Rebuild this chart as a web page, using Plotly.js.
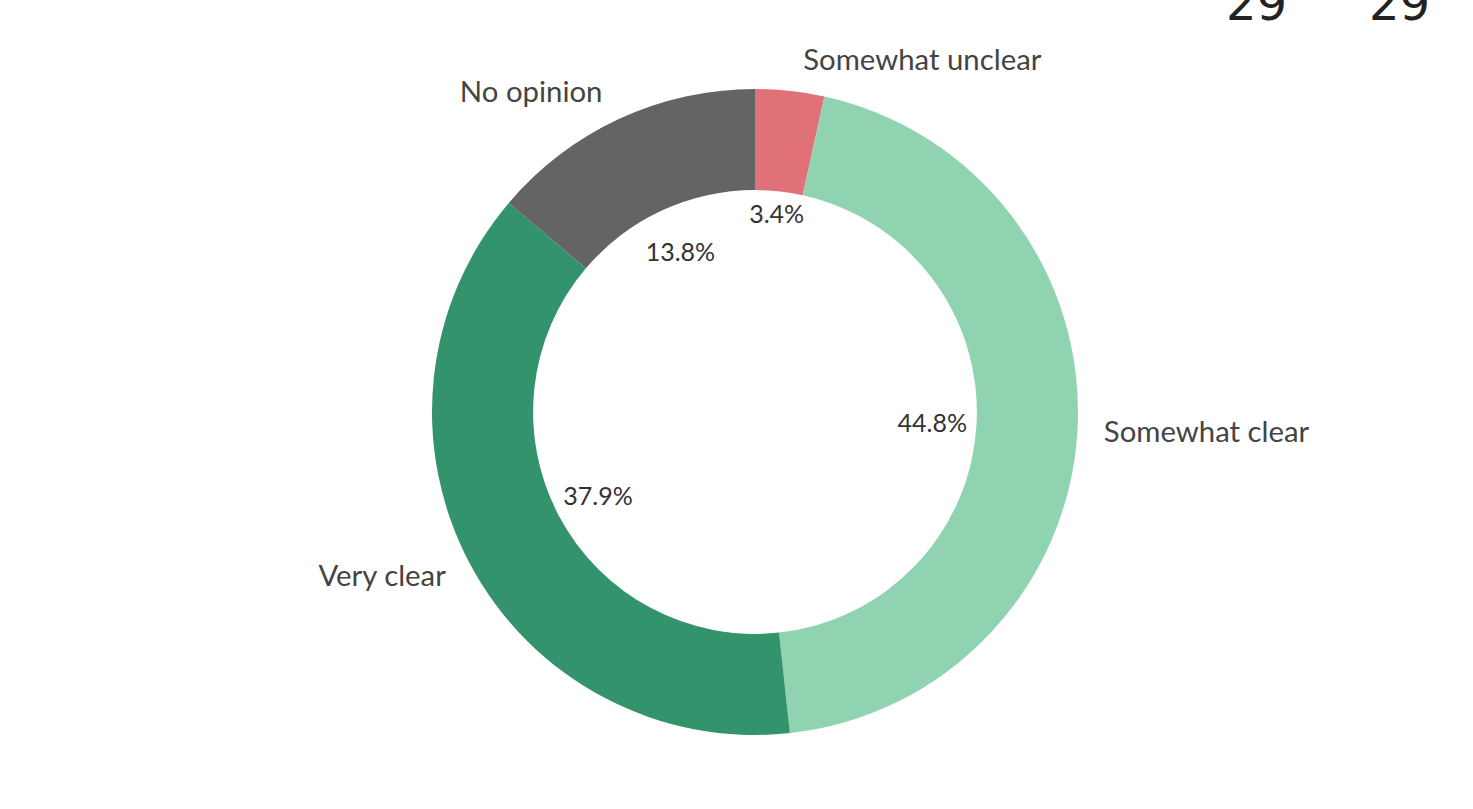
<!DOCTYPE html>
<html>
<head>
<meta charset="utf-8">
<script src="https://cdn.plot.ly/plotly-3.0.1.min.js"></script>
<style>html,body{margin:0;padding:0;background:#fff;}#chart{width:1473px;height:809px;}</style>
</head>
<body>
<div id="chart"></div>
<script>
const categories = ["Somewhat unclear", "Somewhat clear", "Very clear", "No opinion"];
const counts = [1, 13, 11, 4];
const colors = ["#e07179", "#8fd3b0", "#33936d", "#646464"];

const total = counts.reduce((a, b) => a + b, 0);
const FONT = "Lato, 'Source Sans Pro', 'Open Sans', sans-serif";
const CLEAR = categories.map(() => "rgba(0,0,0,0)");

const base = {
  type: "pie",
  labels: categories,
  values: counts,
  sort: false,
  direction: "clockwise",
  rotation: 0,
  showlegend: false,
  automargin: false
};

// coloured donut ring
const ring = Object.assign({}, base, {
  hole: 0.687,
  marker: {colors: colors, line: {width: 0}},
  textinfo: "none",
  domain: {x: [0, 1], y: [0.0222, 0.9778]}
});

// category labels outside the ring
const labelRing = Object.assign({}, base, {
  hole: 0.95,
  marker: {colors: CLEAR, line: {width: 0}},
  textinfo: "label",
  textposition: "outside",
  outsidetextfont: {family: FONT, size: 30, color: "#444"},
  hoverinfo: "skip",
  domain: {x: [0, 1], y: [0, 1]}
});

// percentages inside the hole
const pctRing = Object.assign({}, base, {
  hole: 0.6,
  marker: {colors: CLEAR, line: {width: 0}},
  textinfo: "percent",
  texttemplate: "%{percent:.1%}",
  textposition: "inside",
  insidetextorientation: "horizontal",
  insidetextfont: {family: FONT, size: 25, color: "#333"},
  hoverinfo: "skip",
  domain: {x: [0, 1], y: [0.1716, 0.8284]}
});

const layout = {
  width: 1473,
  height: 809,
  margin: {l: 37, r: 0, t: 74, b: 59},
  paper_bgcolor: "#ffffff",
  plot_bgcolor: "#ffffff",
  showlegend: false,
  uniformtext: {mode: "show", minsize: 25},
  annotations: [
    {text: String(total), xref: "paper", yref: "paper", x: 0.849, y: 1.06, xanchor: "center", yanchor: "bottom", showarrow: false, font: {family: "'DejaVu Sans', sans-serif", size: 48, color: "#222"}},
    {text: String(total), xref: "paper", yref: "paper", x: 0.949, y: 1.06, xanchor: "center", yanchor: "bottom", showarrow: false, font: {family: "'DejaVu Sans', sans-serif", size: 48, color: "#222"}}
  ]
};

Plotly.newPlot("chart", [ring, labelRing, pctRing], layout, {displayModeBar: false, staticPlot: true});
</script>
</body>
</html>
